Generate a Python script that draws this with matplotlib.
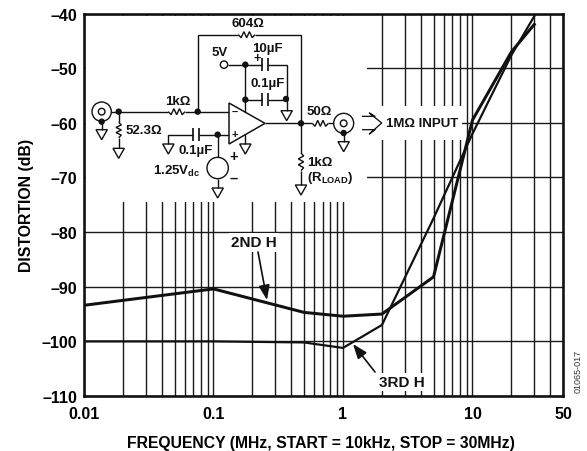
#!/usr/bin/env python3
"""Distortion vs frequency chart with the test circuit drawn over the grid."""

import matplotlib

matplotlib.use("Agg")
import matplotlib.pyplot as plt
from matplotlib.patches import Circle, Polygon, Rectangle

plt.rcParams.update(
    {
        "font.family": ["Liberation Sans", "DejaVu Sans"],
        "font.weight": "bold",
        "axes.labelweight": "bold",
        "font.size": 11,
        "mathtext.fontset": "custom",
        "mathtext.rm": "Liberation Sans:bold",
        "mathtext.bf": "Liberation Sans:bold",
        "mathtext.default": "bf",
    }
)

W, H = 587, 452
PX = 0.72  # one pixel in points at dpi 100

freq_mhz = [0.01, 0.1, 0.5, 1, 2, 5, 10, 20, 30]
second_h = [-93.4, -90.4, -94.7, -95.4, -95.0, -88.2, -59.5, -47.0, -42.0]
third_h = [-100.0, -100.0, -100.2, -101.2, -97.0, -77.5, -62.0, -47.6, -40.5]

x_ticks = [0.01, 0.1, 1, 10, 50]
x_tick_labels = ["0.01", "0.1", "1", "10", "50"]
x_minor = [m * d for d in (0.01, 0.1, 1, 10) for m in range(2, 10) if m * d < 50]
y_ticks = [-40, -50, -60, -70, -80, -90, -100, -110]

INK = "#111111"
GRID = "#1a1a1a"

fig = plt.figure(figsize=(W / 100, H / 100), dpi=100)
ax = fig.add_axes([84 / W, 1 - 397 / H, (563 - 84) / W, (397 - 14.5) / H])

# overlay in image pixels (y down) for the schematic
sk = fig.add_axes([0, 0, 1, 1], zorder=5)
sk.set_xlim(0, W)
sk.set_ylim(H, 0)
sk.axis("off")
sk.patch.set_alpha(0)

ax.set_xscale("log")
ax.set_xlim(0.01, 50)
ax.set_ylim(-110, -40)
ax.set_xticks(x_ticks)
ax.set_xticklabels(x_tick_labels)
ax.set_xticks(x_minor, minor=True)
ax.set_xticklabels([], minor=True)
ax.set_yticks(y_ticks)
ax.set_yticklabels([f"\u2013{abs(v)}" for v in y_ticks])
ax.tick_params(which="both", length=0, labelsize=11.5)
ax.tick_params(axis="x", pad=7)
ax.tick_params(axis="y", pad=5)
ax.grid(True, which="both", color=GRID, linewidth=1.4 * PX)
ax.set_axisbelow(True)
for spine in ax.spines.values():
    spine.set_linewidth(2.6 * PX)
    spine.set_color(INK)
ax.set_ylabel("DISTORTION (dB)", fontsize=11.4, labelpad=5)
ax.set_xlabel("FREQUENCY (MHz, START = 10kHz, STOP = 30MHz)", fontsize=11.3, labelpad=10, x=0.495)

ax.plot(freq_mhz, second_h, color=INK, linewidth=3.0 * PX, zorder=3, solid_joinstyle="miter")
ax.plot(freq_mhz, third_h, color=INK, linewidth=2.2 * PX, zorder=3, solid_joinstyle="miter")

# white areas that hide the grid behind the circuit
for x0, y0, x1, y1 in [(85.5, 16.5, 367, 203), (362, 107, 462, 141)]:
    ax.add_patch(
        Rectangle((x0, y0), x1 - x0, y1 - y0, facecolor="white", edgecolor="none",
                  transform=sk.transData, zorder=2, clip_on=False)
    )


def zx(v):
    return 60 + v / 3


def zy(v):
    return v / 3


def wire(*pts, lw=1.4):
    sk.plot([zx(p[0]) for p in pts], [zy(p[1]) for p in pts], color=INK,
            linewidth=lw * PX, solid_capstyle="butt", solid_joinstyle="miter")


def node(x, y):
    sk.add_patch(Circle((zx(x), zy(y)), 3.2, facecolor=INK, edgecolor="none", zorder=4))


def ground(x, y):
    sk.add_patch(
        Polygon([(zx(x - 17), zy(y)), (zx(x + 17), zy(y)), (zx(x), zy(y + 30))],
                closed=True, facecolor="white", edgecolor=INK, linewidth=1.4 * PX)
    )


def res_h(x0, x1, y):
    n = 6
    pts = [(x0 + (x1 - x0) * i / n, y + (0 if i in (0, n) else (9 if i % 2 else -9))) for i in range(n + 1)]
    wire(*pts)


def res_v(x, y0, y1):
    n = 6
    pts = [(x + (0 if i in (0, n) else (8 if i % 2 else -8)), y0 + (y1 - y0) * i / n) for i in range(n + 1)]
    wire(*pts)


def connector(x, y, r):
    sk.add_patch(Circle((zx(x), zy(y)), r / 3, facecolor="white", edgecolor=INK, linewidth=1.4 * PX, zorder=3))
    sk.add_patch(Circle((zx(x), zy(y)), 10 / 3, facecolor="white", edgecolor=INK, linewidth=1.4 * PX, zorder=3))


def cap_v(x0, x1, y, half=19):
    wire((x0, y - half), (x0, y + half), lw=1.7)
    wire((x1, y - half), (x1, y + half), lw=1.7)


def label(x, y, s, ha="center", size=9.5):
    sk.text(zx(x), zy(y), s, ha=ha, va="center", fontsize=size, color=INK)


# feedback loop and input
wire((413, 338), (413, 107), (535, 107))
res_h(535, 585, 107)
wire((585, 107), (723, 107), (723, 373))
connector(125, 338, 29)
wire((154, 338), (325, 338))
res_h(325, 375, 338)
wire((375, 338), (507, 338))
wire((125, 367), (125, 392))
ground(125, 392)
wire((176, 338), (176, 370))
res_v(176, 370, 416)
wire((176, 416), (176, 448))
ground(176, 448)

# supply decoupling
wire((503, 197), (607, 197))
cap_v(607, 625, 197)
wire((625, 197), (682, 197), (682, 300))
wire((556, 197), (556, 340))
wire((556, 302), (607, 302))
cap_v(607, 625, 302)
wire((625, 302), (680, 302), (680, 335))
ground(680, 335)
sk.add_patch(Circle((zx(492), zy(197)), 11 / 3, facecolor="white", edgecolor=INK, linewidth=1.4 * PX))

# op amp
wire((556, 405), (556, 435))
ground(556, 435)
sk.add_patch(
    Polygon([(zx(507), zy(312)), (zx(507), zy(435)), (zx(615), zy(373))],
            closed=True, facecolor="white", edgecolor=INK, linewidth=1.5 * PX)
)
label(523, 338, "\u2013", size=8)
label(523, 405, "+", size=8)

# non-inverting input and bias source
wire((507, 407), (417, 407))
cap_v(400, 417, 407)
wire((400, 407), (325, 407), (325, 435))
ground(325, 435)
wire((473, 407), (473, 475))
sk.add_patch(Circle((zx(473), zy(507)), 32 / 3, facecolor="white", edgecolor=INK, linewidth=1.4 * PX))
wire((473, 539), (473, 567))
ground(473, 567)

# output
wire((615, 373), (757, 373))
res_h(757, 805, 373)
wire((805, 373), (822, 373))
connector(851, 373, 30)
wire((851, 403), (851, 428))
ground(851, 428)
wire((723, 373), (723, 462))
res_v(723, 462, 515)
wire((723, 515), (723, 558))
ground(723, 558)

for nx, ny in [(125, 368), (176, 338), (413, 338), (556, 197), (556, 302), (678, 300),
               (473, 407), (723, 373), (851, 402)]:
    node(nx, ny)

label(565, 73, "604\u03a9")
label(353, 305, "1k\u03a9")
label(196, 392, "52.3\u03a9", ha="left")
label(478, 160, "5V")
label(592, 178, "+", size=9)
label(621, 146, "10\u00b5F")
label(622, 253, "0.1\u00b5F")
label(408, 452, "0.1\u00b5F")
label(779, 336, "50\u03a9")
label(520, 470, "+", size=10.5)
label(520, 537, "\u2013", size=10.5)
label(742, 488, "1k\u03a9", ha="left")
label(422, 515, "1.25V$_{dc}$", ha="right")
label(742, 533, "(R$_{LOAD}$)", ha="left")

# hollow arrow and 1M input label
arrow_x = [68, 105, 88, 125, 88, 105, 68]
arrow_y = [352, 352, 342, 372, 405, 392, 392]
sk.plot([340 + v / 3 for v in arrow_x], [v / 3 for v in arrow_y], color=INK, linewidth=1.3 * PX)
sk.text(340 + 245 / 3, 124, "1M\u03a9 INPUT", ha="center", va="center", fontsize=9.5, color=INK)

# curve call-outs
for s, xy, xytext, tx, ty in [
    ("2ND H", (267, 301), (258, 253), 254, 243.5),
    ("3RD H", (353, 345), (375, 373), 402, 383),
]:
    sk.text(tx, ty, s, ha="center", va="center", fontsize=11, color=INK,
            bbox=dict(facecolor="white", edgecolor="none", pad=1.5))
    sk.annotate("", xy=xy, xytext=xytext,
                arrowprops=dict(arrowstyle="-|>,head_length=0.8,head_width=0.3", color=INK,
                                linewidth=1.7 * PX, shrinkA=0, shrinkB=0))

sk.text(578, 371, "01065-017", rotation=90, ha="center", va="center", fontsize=6.5,
        fontweight="normal", color="#333333")

fig.savefig("out.png", dpi=100)
